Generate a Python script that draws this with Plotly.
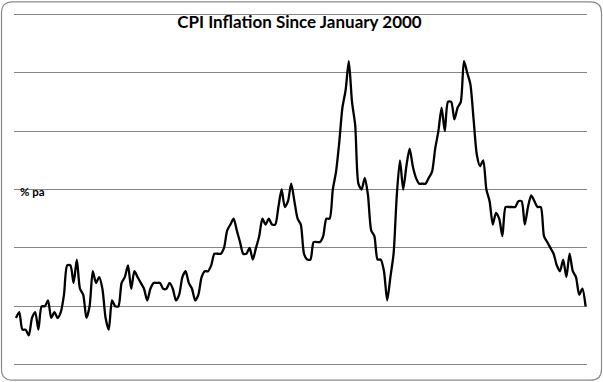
import plotly.graph_objects as go
import pandas as pd

# UK CPI 12-month rate, % pa, monthly Jan 2000 - Nov 2014
cpi_2000 = [0.8, 0.9, 0.6, 0.6, 0.5, 0.8, 0.9, 0.6, 1.0, 1.0, 1.1, 0.8]
cpi_2001 = [0.9, 0.8, 0.9, 1.2, 1.7, 1.7, 1.4, 1.8, 1.3, 1.2, 0.8, 1.0]
cpi_2002 = [1.6, 1.4, 1.5, 1.3, 0.8, 0.6, 1.1, 1.0, 1.0, 1.4, 1.5, 1.7]
cpi_2003 = [1.3, 1.6, 1.5, 1.4, 1.3, 1.1, 1.3, 1.4, 1.4, 1.4, 1.3, 1.3]
cpi_2004 = [1.4, 1.3, 1.1, 1.2, 1.5, 1.6, 1.4, 1.3, 1.1, 1.2, 1.5, 1.6]
cpi_2005 = [1.6, 1.7, 1.9, 1.9, 1.9, 2.0, 2.3, 2.4, 2.5, 2.3, 2.1, 1.9]
cpi_2006 = [1.9, 2.0, 1.8, 2.0, 2.2, 2.5, 2.4, 2.5, 2.4, 2.4, 2.7, 3.0]
cpi_2007 = [2.7, 2.8, 3.1, 2.8, 2.5, 2.4, 1.9, 1.8, 1.8, 2.1, 2.1, 2.1]
cpi_2008 = [2.2, 2.5, 2.5, 3.0, 3.3, 3.8, 4.4, 4.7, 5.2, 4.5, 4.1, 3.1]
cpi_2009 = [3.0, 3.2, 2.9, 2.3, 2.2, 1.8, 1.8, 1.6, 1.1, 1.5, 1.9, 2.9]
cpi_2010 = [3.5, 3.0, 3.4, 3.7, 3.4, 3.2, 3.1, 3.1, 3.1, 3.2, 3.3, 3.7]
cpi_2011 = [4.0, 4.4, 4.0, 4.5, 4.5, 4.2, 4.4, 4.5, 5.2, 5.0, 4.8, 4.2]
cpi_2012 = [3.6, 3.4, 3.5, 3.0, 2.8, 2.4, 2.6, 2.5, 2.2, 2.7, 2.7, 2.7]
cpi_2013 = [2.7, 2.8, 2.8, 2.4, 2.7, 2.9, 2.8, 2.7, 2.7, 2.2, 2.1, 2.0]
cpi_2014 = [1.9, 1.7, 1.6, 1.8, 1.5, 1.9, 1.6, 1.5, 1.2, 1.3, 1.0]

cpi = (cpi_2000 + cpi_2001 + cpi_2002 + cpi_2003 + cpi_2004 + cpi_2005 + cpi_2006
       + cpi_2007 + cpi_2008 + cpi_2009 + cpi_2010 + cpi_2011 + cpi_2012 + cpi_2013 + cpi_2014)
months = [d.strftime("%b %Y") for d in pd.date_range("2000-01-01", periods=len(cpi), freq="MS")]

y_min, y_max = 0, 6
pad = 0.04  # keeps the end gridlines inside the plot so plotly draws them

W, H = 603, 382
unit = 58.5                      # pixels per 1 % pa
L, R = 14, 16
T = 14 - pad * unit
B = 17 - pad * unit
pw, ph = W - L - R, H - T - B

fig = go.Figure()
fig.add_trace(go.Scatter(
    x=months, y=cpi, mode="lines",
    line=dict(color="black", width=2.3, shape="spline", smoothing=0.7),
    hoverinfo="x+y", showlegend=False,
))

def px2paper(x, y):
    return (x - L) / pw, (H - B - y) / ph

# rounded chart border
x0, y0, x1, y1, r = 1.5, 1.5, 601.5, 380.5, 11
def P(x, y):
    a, b = px2paper(x, y)
    return f"{a:.5f},{b:.5f}"
path = (f"M {P(x0 + r, y0)} L {P(x1 - r, y0)} Q {P(x1, y0)} {P(x1, y0 + r)} "
        f"L {P(x1, y1 - r)} Q {P(x1, y1)} {P(x1 - r, y1)} "
        f"L {P(x0 + r, y1)} Q {P(x0, y1)} {P(x0, y1 - r)} "
        f"L {P(x0, y0 + r)} Q {P(x0, y0)} {P(x0 + r, y0)} Z")
fig.add_shape(type="path", path=path, xref="paper", yref="paper",
              line=dict(color="#8a8a8a", width=1.2), layer="above")

fig.update_layout(
    width=W, height=H,
    margin=dict(l=L, r=R, t=T, b=B),
    paper_bgcolor="white", plot_bgcolor="white",
    title=dict(text="<b>CPI Inflation Since January 2000</b>",
               x=(299.5) / W, xanchor="center", y=1 - 22 / H, yanchor="middle",
               font=dict(family="Lato, Open Sans, sans-serif", size=17, color="black")),
    xaxis=dict(type="category", range=[-0.625, len(cpi) - 1 + 0.44],
               showgrid=False, showticklabels=False, zeroline=False, showline=False, ticks=""),
    yaxis=dict(range=[y_min - pad, y_max + pad], tick0=0, dtick=1, showgrid=True,
               gridcolor="#868686", gridwidth=1, showticklabels=False,
               zeroline=False, showline=False, ticks=""),
    annotations=[dict(text="<b>% pa</b>", xref="paper", yref="paper",
                      x=px2paper(18, 192)[0], y=px2paper(18, 192)[1],
                      xanchor="left", yanchor="middle", showarrow=False,
                      font=dict(family="Lato, Open Sans, sans-serif", size=11.5, color="black"))],
)

fig.write_html("out.html")
